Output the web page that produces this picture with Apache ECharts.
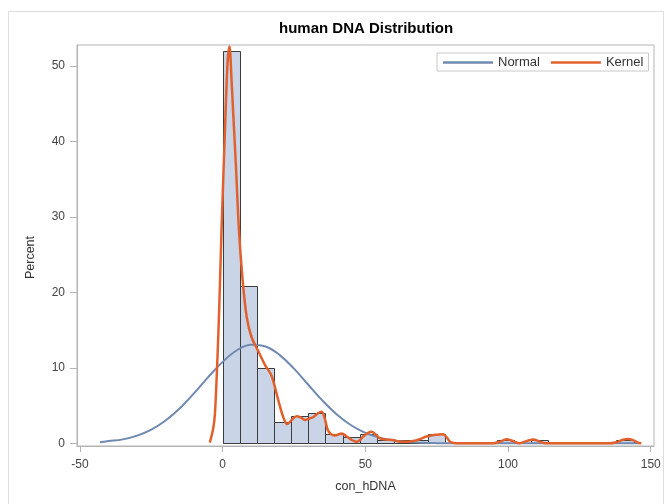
<!DOCTYPE html>
<html>
<head>
<meta charset="utf-8">
<script src="https://cdn.jsdelivr.net/npm/echarts@6/dist/echarts.min.js"></script>
<style>
html, body { margin: 0; padding: 0; background: #fff; }
#chart { width: 668px; height: 504px; }
</style>
</head>
<body>
<div id="chart"></div>
<script>
// Histogram of con_hDNA: bins of width 6 starting at 0, heights in percent
const binWidth = 6;
const binStart = [0, 6, 12, 18, 24, 30, 36, 42, 48, 54, 60, 66, 72, 78, 84, 90, 96, 102, 108, 114, 120, 126, 132, 138];
const binPercent = [52.0, 20.8, 10.0, 2.8, 3.6, 4.0, 1.2, 0.8, 1.2, 0.4, 0.4, 0.4, 1.2, 0, 0, 0, 0.4, 0, 0.4, 0, 0, 0, 0, 0.4];

// Fitted normal density (percent scale)
const normalX = [-43, -40, -35, -30, -25, -20, -15, -10, -5, 0, 5, 10, 15, 20, 25, 30, 35, 40, 45, 50, 55, 60, 65, 70, 75, 80, 90, 100, 120, 146];
const normalY = [0.16, 0.3, 0.53, 1.03, 1.83, 3.03, 4.66, 6.66, 8.81, 10.8, 12.34, 13.07, 12.83, 11.7, 9.9, 7.77, 5.66, 3.83, 2.4, 1.4, 0.76, 0.38, 0.18, 0.08, 0.03, 0.01, 0, 0, 0, 0];

// Kernel density estimate (percent scale)
const kernelX = [-4.5, -3.3, -2.7, -1.9, -1.2, -0.4, 0.8, 1.7, 2.4, 3.1, 3.7, 4.6, 5.7, 7.0, 8.4, 10.1, 12.5, 14.8, 17.1, 19.5, 21.2, 22.6, 24.2, 25.9, 27.5, 28.9, 30.5, 31.8, 33.4, 34.7, 35.7, 36.8, 38.0, 39.3, 41.7, 43.5, 45.0, 46.9, 48.0, 49.2, 51.0, 52.2, 53.5, 55.1, 57.0, 59.7, 62.1, 64.5, 66.8, 69.0, 71.4, 74.0, 77.3, 78.5, 79.6, 81.0, 83.0, 90.0, 95.0, 97.0, 99.4, 101.5, 104.0, 106.5, 108.8, 111.0, 113.0, 120.0, 135.0, 138.0, 140.0, 142.0, 144.0, 145.5, 146.7];
const kernelY = [0.1, 2.0, 4.0, 10.6, 18.0, 28.3, 41.5, 50.4, 52.6, 48.2, 43.7, 37.1, 28.3, 21.6, 16.8, 14.1, 12.2, 10.4, 9.0, 5.7, 3.5, 2.55, 3.1, 3.6, 3.4, 3.1, 3.3, 3.5, 4.0, 4.2, 3.4, 1.8, 1.2, 1.05, 1.3, 0.9, 0.5, 0.2, 0.4, 0.9, 1.4, 1.55, 1.2, 0.66, 0.5, 0.44, 0.22, 0.2, 0.3, 0.55, 0.9, 1.1, 1.2, 0.8, 0.25, 0.05, 0, 0, 0.02, 0.2, 0.53, 0.35, 0.02, 0.3, 0.52, 0.25, 0.02, 0, 0, 0.15, 0.45, 0.57, 0.4, 0.1, 0];

const xTicks = [-50, 0, 50, 100, 150];
const yTicks = [0, 10, 20, 30, 40, 50];

const FONT = '"Liberation Sans", Arial, sans-serif';
const FRAME = '#b4b4b4';

const histData = [];
binStart.forEach((s, i) => { if (binPercent[i] > 0) histData.push([s, binPercent[i]]); });

const zip = (xs, ys) => xs.map((x, i) => [x, ys[i]]);

const chart = echarts.init(document.getElementById('chart'), null, { renderer: 'canvas' });
chart.setOption({
  animation: false,
  backgroundColor: '#fff',
  title: {
    text: 'human DNA Distribution',
    left: 279, top: 21, padding: 0,
    textStyle: { fontFamily: FONT, fontSize: 15, fontWeight: 'bold', color: '#000' }
  },
  graphic: [{
    type: 'rect', silent: true, z: -10,
    shape: { x: 8.5, y: 11.5, width: 655, height: 500 },
    style: { fill: 'none', stroke: '#dcdcdc', lineWidth: 1 }
  }],
  legend: {
    left: 437, top: 53,
    padding: [3, 5, 2, 6],
    icon: 'rect',
    itemWidth: 50, itemHeight: 2.5, itemGap: 11,
    borderColor: '#c8c8c8', borderWidth: 1,
    textStyle: { fontFamily: FONT, fontSize: 13, color: '#333', lineHeight: 12 },
    data: ['Normal', 'Kernel']
  },
  grid: {
    left: 77, top: 45, right: 14, bottom: 58,
    show: true, borderColor: FRAME, borderWidth: 1, backgroundColor: '#fff'
  },
  xAxis: {
    type: 'value', min: -51.05, max: 151.15,
    name: 'con_hDNA', nameLocation: 'middle', nameGap: 34,
    nameTextStyle: { fontFamily: FONT, fontSize: 12.5, color: '#333' },
    axisLine: { show: true, onZero: false, lineStyle: { color: FRAME } },
    axisTick: { show: true, length: 6, customValues: xTicks, lineStyle: { color: FRAME } },
    axisLabel: { customValues: xTicks, margin: 13, fontFamily: FONT, fontSize: 12, color: '#444' },
    splitLine: { show: false }
  },
  yAxis: {
    type: 'value', min: -0.35, max: 52.8,
    name: 'Percent', nameLocation: 'middle', nameGap: 40,
    nameTextStyle: { fontFamily: FONT, fontSize: 12.5, color: '#333', padding: [0, 24, 0, 0] },
    axisLine: { show: true, onZero: false, lineStyle: { color: FRAME } },
    axisTick: { show: true, length: 7, customValues: yTicks, lineStyle: { color: FRAME } },
    axisLabel: { customValues: yTicks, margin: 12, fontFamily: FONT, fontSize: 12, color: '#444' },
    splitLine: { show: false }
  },
  series: [
    {
      type: 'custom',
      name: 'Histogram',
      data: histData,
      encode: { x: 0, y: 1 },
      z: 1,
      renderItem: function (params, api) {
        const x0 = api.value(0), h = api.value(1);
        const p0 = api.coord([x0, h]);
        const p1 = api.coord([x0 + binWidth, 0]);
        return {
          type: 'rect',
          shape: { x: Math.round(p0[0]) + 0.5, y: Math.round(p0[1]) + 0.5, width: Math.round(p1[0]) - Math.round(p0[0]), height: Math.round(p1[1]) - Math.round(p0[1]) },
          style: { fill: '#c9d4e6', stroke: '#3c3c3c', lineWidth: 1 }
        };
      }
    },
    {
      type: 'line', name: 'Normal',
      data: zip(normalX, normalY),
      symbol: 'none', smooth: 0.4, z: 3,
      lineStyle: { color: '#7089b1', width: 2 },
      itemStyle: { color: '#7089b1' }
    },
    {
      type: 'line', name: 'Kernel',
      data: zip(kernelX, kernelY),
      symbol: 'none', smooth: 0.3, z: 4,
      lineStyle: { color: '#e2602c', width: 2.5 },
      itemStyle: { color: '#e2602c' }
    }
  ]
});
</script>
</body>
</html>
